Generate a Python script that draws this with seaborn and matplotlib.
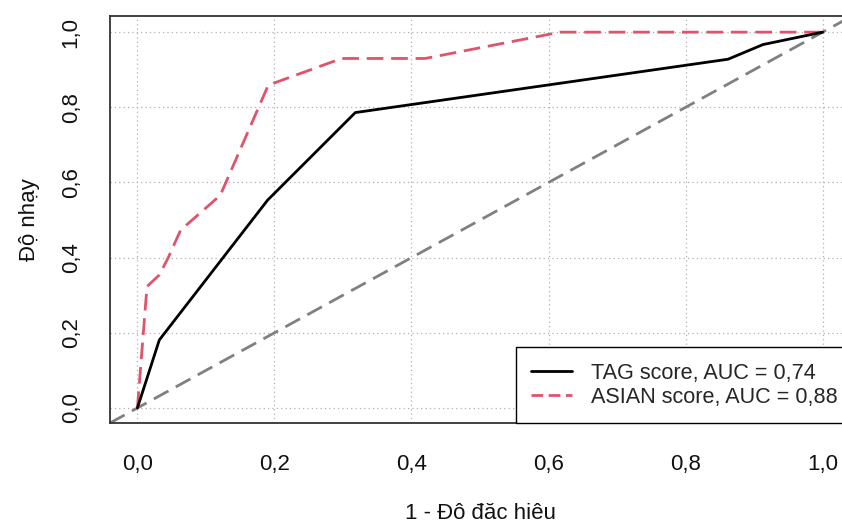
import numpy as np
import pandas as pd
import seaborn as sns
import matplotlib
matplotlib.use("Agg")
import matplotlib.pyplot as plt

# ROC points (1 - specificity, sensitivity)
tag_fpr = [0.0, 0.032, 0.19, 0.318, 0.862, 0.913, 1.0]
tag_tpr = [0.0, 0.181, 0.553, 0.786, 0.928, 0.967, 1.0]
asian_fpr = [0.0, 0.014, 0.032, 0.045, 0.063, 0.121, 0.191, 0.298, 0.42, 0.617, 1.0]
asian_tpr = [0.0, 0.323, 0.354, 0.40, 0.473, 0.566, 0.859, 0.930, 0.930, 1.0, 1.0]
legend_labels = ["TAG score, AUC = 0,74", "ASIAN score, AUC = 0,88"]
ticks = [0.0, 0.2, 0.4, 0.6, 0.8, 1.0]
tick_labels = ["0,0", "0,2", "0,4", "0,6", "0,8", "1,0"]

sns.set_style("white")
plt.rcParams['font.family'] = ['Liberation Sans', 'DejaVu Sans']

fig = plt.figure(figsize=(8.42, 5.23), dpi=100)
ax = fig.add_axes([110/842, 1 - 423/523, 740/842, 407/523])

red = "#DF536B"
lw = 2.0
fs = 16

# grid first so it sits under the curves
for t in ticks:
    ax.axvline(t, color="#b0b0b0", lw=0.9, ls=(0, (1, 2.5)), zorder=0)
    ax.axhline(t, color="#b0b0b0", lw=0.9, ls=(0, (1, 2.5)), zorder=0)

ax.axline((0, 0), (1, 1), color="#808080", lw=lw, ls=(0, (6, 3)), zorder=1)

tag_df = pd.DataFrame({"fpr": tag_fpr, "tpr": tag_tpr})
asian_df = pd.DataFrame({"fpr": asian_fpr, "tpr": asian_tpr})
sns.lineplot(data=tag_df, x="fpr", y="tpr", sort=False, estimator=None,
             color="black", lw=lw, ax=ax, label=legend_labels[0], zorder=3)
sns.lineplot(data=asian_df, x="fpr", y="tpr", sort=False, estimator=None,
             color=red, lw=lw, ax=ax, label=legend_labels[1], zorder=2)
ax.lines[-1].set_linestyle((0, (6, 2.8)))

ax.set_xlim(-0.04, 1.04)
ax.set_ylim(-0.04, 1.043)
ax.set_xticks(ticks)
ax.set_xticklabels(tick_labels)
ax.set_yticks(ticks)
ax.set_yticklabels(tick_labels, rotation=90, va="center")

ax.tick_params(axis="both", direction="out", length=9.4, width=1.3,
               color="#444444", labelsize=fs, labelcolor="#111111")
ax.tick_params(axis="x", pad=13)
ax.tick_params(axis="y", pad=11)
for s in ax.spines.values():
    s.set_color("#333333")
    s.set_linewidth(1.3)

ax.set_xlabel("1 - Đô đăc hiêu", fontsize=fs, labelpad=20, color="#111111")
ax.set_ylabel("Độ nhạy", fontsize=fs, labelpad=15, color="#111111")

leg = ax.legend(loc="lower right", bbox_to_anchor=(1 + 3/740, 0),
                borderaxespad=0, fancybox=False,
                framealpha=1, edgecolor="black", fontsize=15.6,
                handlelength=1.9, handletextpad=0.88, borderpad=0.7,
                labelspacing=0.15)
leg.get_frame().set_linewidth(1.0)
for h in leg.get_lines():
    h.set_linewidth(lw)
leg.get_lines()[1].set_linestyle((0, (4.2, 2)))

fig.savefig("out.png", dpi=100)
